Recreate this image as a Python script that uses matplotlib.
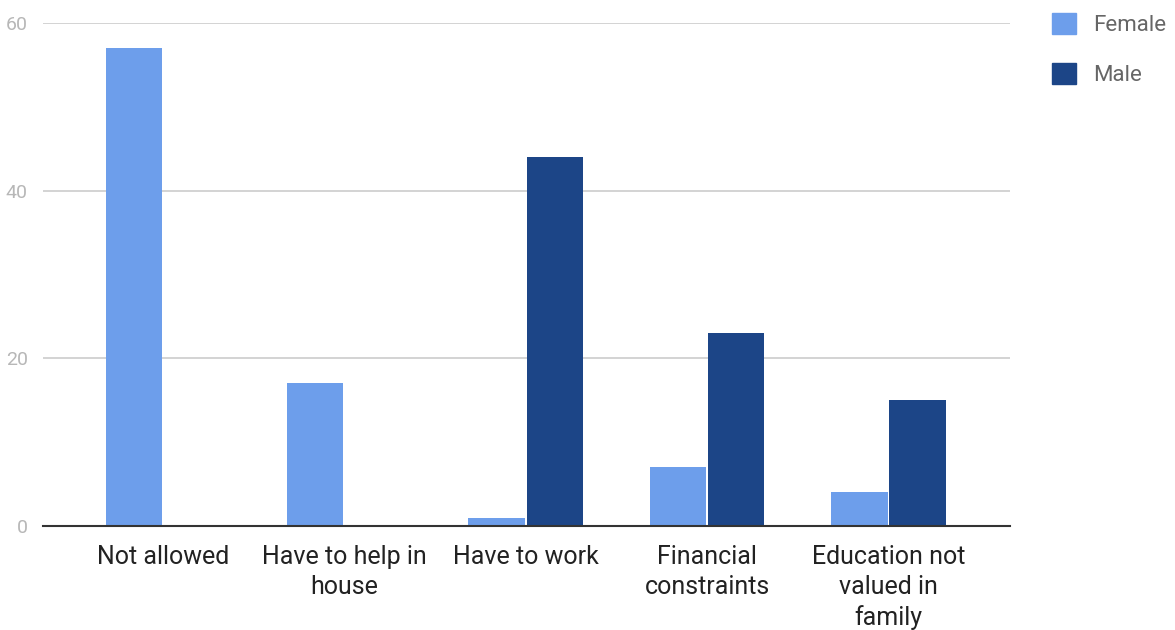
import numpy as np
import matplotlib.pyplot as plt
from matplotlib.patches import Patch

categories = ['Not allowed', 'Have to help in\nhouse', 'Have to work',
              'Financial\nconstraints', 'Education not\nvalued in\nfamily']
female = [57, 17, 1, 7, 4]
male = [0, 0, 44, 23, 15]
yticks = [0, 20, 40, 60]

c_female = '#6d9eeb'
c_male = '#1c4587'

plt.rcParams['font.family'] = ['Roboto', 'DejaVu Sans']

fig = plt.figure(figsize=(11.75, 6.3), dpi=100)
ax = fig.add_axes([43 / 1175, 1 - 526 / 630, (1010 - 43) / 1175, (526 - 23) / 630])

x = np.arange(len(categories))
w = 0.31
ax.bar(x - w / 2 - 0.005, female, w, color=c_female, zorder=3)
ax.bar(x + w / 2 + 0.005, male, w, color=c_male, zorder=3)

ax.set_xlim(-0.66, 4.67)
ax.set_ylim(0, 60)
ax.set_yticks(yticks)
ax.set_yticklabels([str(t) for t in yticks], color='#b7b7b7', fontsize=14)
ax.set_xticks(x)
ax.set_xticklabels(categories, fontsize=18, color='#222222', linespacing=1.3, va='top')
ax.tick_params(axis='both', length=0)
ax.tick_params(axis='x', pad=14)
ax.tick_params(axis='y', pad=11)
ax.grid(axis='y', color='#cccccc', linewidth=1.2, zorder=0)
for s in ['top', 'right', 'left']:
    ax.spines[s].set_visible(False)
ax.spines['bottom'].set_color('#333333')
ax.spines['bottom'].set_linewidth(1.5)
ax.spines['bottom'].set_zorder(4)

handles = [Patch(color=c_female, label='Female'), Patch(color=c_male, label='Male')]
fig.legend(handles=handles, loc='upper left', bbox_to_anchor=(1032 / 1175, 1 + 7 / 630),
           frameon=False, fontsize=16, labelcolor='#666666', handlelength=1.1,
           handleheight=1.1, handletextpad=0.75, labelspacing=1.2)

fig.savefig('out.png', dpi=100)
